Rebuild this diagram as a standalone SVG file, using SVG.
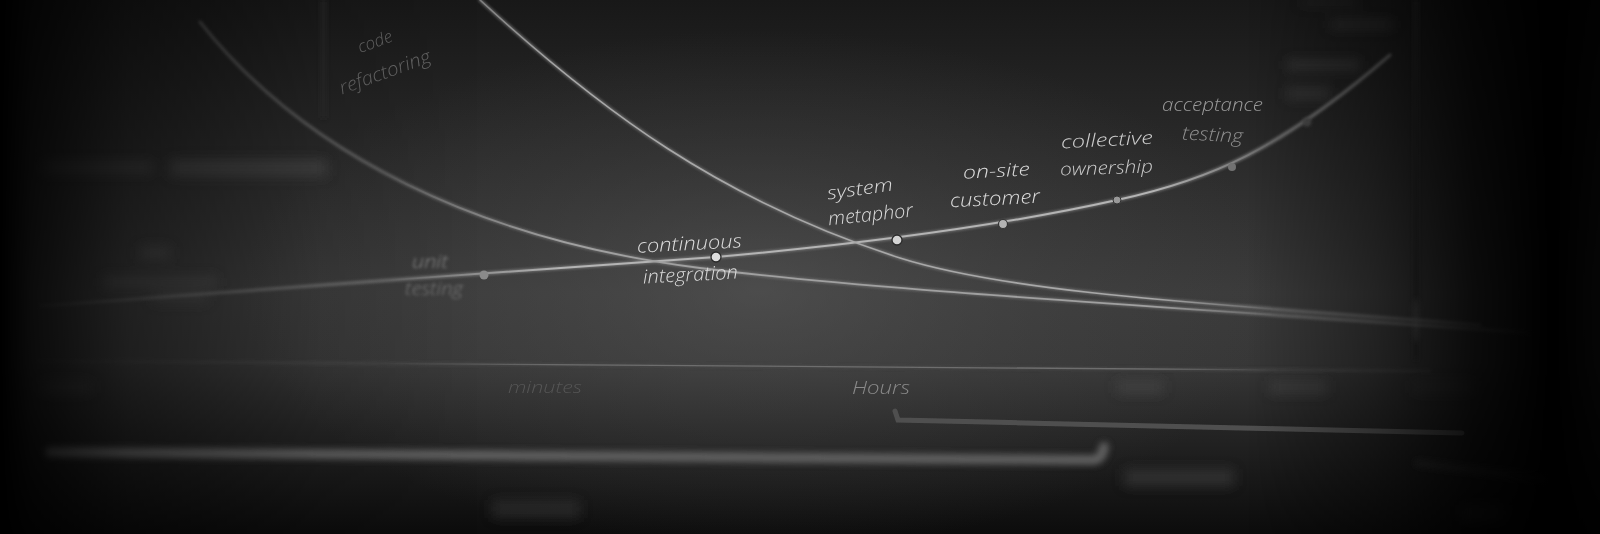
<svg xmlns="http://www.w3.org/2000/svg" width="1600" height="534" viewBox="0 0 1600 534">
<defs>
<linearGradient id="bgV" x1="0" y1="0" x2="0" y2="534" gradientUnits="userSpaceOnUse">
<stop offset="0" stop-color="#181818"/>
<stop offset="0.25" stop-color="#282828"/>
<stop offset="0.55" stop-color="#3b3b3b"/>
<stop offset="0.68" stop-color="#373737"/>
<stop offset="0.8" stop-color="#252525"/>
<stop offset="1" stop-color="#0c0c0c"/>
</linearGradient>
<radialGradient id="glow" cx="760" cy="290" r="520" gradientUnits="userSpaceOnUse" gradientTransform="translate(760 290) scale(1 0.5) translate(-760 -290)">
<stop offset="0" stop-color="#5a5a5a" stop-opacity="0.55"/>
<stop offset="0.6" stop-color="#4a4a4a" stop-opacity="0.25"/>
<stop offset="1" stop-color="#4a4a4a" stop-opacity="0"/>
</radialGradient>
<linearGradient id="edgeH" x1="0" y1="0" x2="1600" y2="0" gradientUnits="userSpaceOnUse">
<stop offset="0" stop-color="#000" stop-opacity="1"/>
<stop offset="0.02" stop-color="#000" stop-opacity="0.8"/>
<stop offset="0.08" stop-color="#000" stop-opacity="0.45"/>
<stop offset="0.2" stop-color="#000" stop-opacity="0.1"/>
<stop offset="0.3" stop-color="#000" stop-opacity="0"/>
<stop offset="0.78" stop-color="#000" stop-opacity="0"/>
<stop offset="0.86" stop-color="#000" stop-opacity="0.4"/>
<stop offset="0.92" stop-color="#000" stop-opacity="0.8"/>
<stop offset="0.97" stop-color="#000" stop-opacity="1"/>
<stop offset="1" stop-color="#000" stop-opacity="0.9"/>
</linearGradient>
<linearGradient id="focusGrad" x1="0" y1="0" x2="1600" y2="0" gradientUnits="userSpaceOnUse">
<stop offset="0" stop-color="#000"/>
<stop offset="0.24" stop-color="#000"/>
<stop offset="0.35" stop-color="#fff"/>
<stop offset="0.72" stop-color="#fff"/>
<stop offset="0.8" stop-color="#000"/>
<stop offset="1" stop-color="#000"/>
</linearGradient>
<linearGradient id="softGrad" x1="0" y1="0" x2="1600" y2="0" gradientUnits="userSpaceOnUse">
<stop offset="0" stop-color="#000"/>
<stop offset="0.03" stop-color="#333"/>
<stop offset="0.15" stop-color="#999"/>
<stop offset="0.28" stop-color="#fff"/>
<stop offset="0.8" stop-color="#fff"/>
<stop offset="0.95" stop-color="#888"/>
<stop offset="1" stop-color="#222"/>
</linearGradient>
<mask id="focus" maskUnits="userSpaceOnUse" x="0" y="0" width="1600" height="534">
<rect x="0" y="0" width="1600" height="534" fill="url(#focusGrad)"/>
</mask>
<mask id="soft" maskUnits="userSpaceOnUse" x="0" y="0" width="1600" height="534">
<rect x="0" y="0" width="1600" height="534" fill="url(#softGrad)"/>
</mask>
<filter id="b1" x="-20%" y="-50%" width="140%" height="200%"><feGaussianBlur stdDeviation="0.7"/></filter>
<filter id="b2" x="-20%" y="-50%" width="140%" height="200%"><feGaussianBlur stdDeviation="1.6"/></filter>
<filter id="b3" x="-20%" y="-100%" width="140%" height="300%"><feGaussianBlur stdDeviation="3"/></filter>
<filter id="bv" x="-600%" y="-20%" width="1300%" height="140%"><feGaussianBlur stdDeviation="2.5"/></filter>
<filter id="b5" x="-30%" y="-300%" width="160%" height="700%"><feGaussianBlur stdDeviation="6"/></filter>
<style>
.chalk{font-family:"Open Sans","DejaVu Sans",sans-serif;font-style:italic;font-weight:300;fill:#dcdcdc;}
.dim{fill:#8c8c8c;}
.faint{fill:#656565;}
.curve{fill:none;stroke-linecap:round;}
.blob{fill:#4a4a4a;}
</style>
</defs>

<!-- board background -->
<rect x="0" y="0" width="1600" height="534" fill="url(#bgV)"/>
<rect x="0" y="0" width="1600" height="534" fill="url(#glow)"/>

<!-- blurred background notes (illegible) -->
<g id="blurred-notes" filter="url(#b5)">
<rect class="blob" x="43" y="162" width="110" height="11" opacity="0.55"/>
<rect class="blob" x="170" y="160" width="157" height="16" opacity="0.7"/>
<rect class="blob" x="140" y="247" width="30" height="12" opacity="0.8"/>
<rect class="blob" x="103" y="277" width="114" height="10" opacity="0.9"/>
<rect class="blob" x="153" y="293" width="54" height="9" opacity="0.8"/>
<rect class="blob" x="1287" y="60" width="73" height="10" opacity="0.5"/>
<rect class="blob" x="1287" y="88" width="43" height="11" opacity="0.5"/>
<rect class="blob" x="1330" y="20" width="63" height="9" opacity="0.4"/>
<rect class="blob" x="1300" y="0" width="60" height="5" opacity="0.3"/>
<rect class="blob" x="41" y="381" width="51" height="12" opacity="0.45"/>
<rect class="blob" x="1117" y="381" width="46" height="12" opacity="0.6"/>
<rect class="blob" x="1270" y="381" width="57" height="12" opacity="0.55"/>
<rect class="blob" x="1413" y="381" width="62" height="12" opacity="0.35"/>
<rect class="blob" x="492" y="500" width="88" height="18" opacity="0.35"/>
<rect class="blob" x="1124" y="469" width="110" height="17" opacity="0.45"/>
<rect class="blob" x="1462" y="505" width="44" height="16" opacity="0.25"/>
</g>

<!-- vertical board lines -->
<g id="board-lines">
<rect x="322" y="0" width="3" height="118" fill="#2e2e2e" filter="url(#bv)"/>
<rect x="1414" y="0" width="4" height="360" fill="#2c2c2c" filter="url(#bv)"/>
<ellipse cx="1416" cy="320" rx="4" ry="22" fill="#4a4a4a" filter="url(#bv)"/>
</g>

<!-- connectors / curves -->
<g id="connectors">
<!-- blurred (out of focus) copies -->
<g mask="url(#soft)">
<g filter="url(#b2)" opacity="0.85">
<path class="curve" d="M40,306 C250,290 500,272 716,257 C850,245 1000,226 1117,200 C1210,180 1280,150 1390,55" stroke="#8a8a8a" stroke-width="3"/>
<path class="curve" d="M200,22 C305,155 480,240 700,268 C880,291 1150,305 1530,333" stroke="#7a7a7a" stroke-width="3"/>
<path class="curve" d="M480,0 C600,110 720,200 900,258 C1020,296 1250,306 1480,325" stroke="#7a7a7a" stroke-width="3"/>
<path class="curve" d="M40,361 L1430,371" stroke="#4a4a4a" stroke-width="3"/>
</g>
</g>
<!-- in-focus copies -->
<g mask="url(#focus)">
<path class="curve" d="M40,306 C250,290 500,272 716,257 C850,245 1000,226 1117,200 C1210,180 1280,150 1390,55" stroke="#b4b4b4" stroke-width="2"/>
<path class="curve" d="M200,22 C305,155 480,240 700,268 C880,291 1150,305 1530,333" stroke="#a0a0a0" stroke-width="1.8"/>
<path class="curve" d="M480,0 C600,110 720,200 900,258 C1020,296 1250,306 1480,325" stroke="#a8a8a8" stroke-width="1.6"/>
<path class="curve" d="M40,361 L1430,371" stroke="#6e6e6e" stroke-width="1.3"/>
</g>
<!-- bottom bars -->
<path class="curve" d="M50,452 L1094,460 Q1102,459 1104,447" stroke="#5e5e5e" stroke-width="10" filter="url(#b3)"/>
<path class="curve" d="M895,411 L898,420 L1462,433" stroke="#505050" stroke-width="5" filter="url(#b1)"/>
<path class="curve" d="M1418,463 L1545,479" stroke="#2e2e2e" stroke-width="7" filter="url(#b3)"/>
</g>

<!-- nodes -->
<g id="code-refactoring" filter="url(#b1)">
<text class="chalk faint" font-size="17" text-anchor="middle" transform="translate(377,47) rotate(-20)">code</text>
<text class="chalk faint" font-size="19" text-anchor="middle" textLength="96" lengthAdjust="spacingAndGlyphs" transform="translate(387,78) rotate(-20)">refactoring</text>
</g>

<g id="unit-testing">
<g filter="url(#b2)">
<text class="chalk dim" x="412" y="268" font-size="18" textLength="36" lengthAdjust="spacingAndGlyphs">unit</text>
<text class="chalk" x="405" y="295" font-size="19" textLength="58" lengthAdjust="spacingAndGlyphs" style="fill:#7c7c7c">testing</text>
</g>
<circle cx="484" cy="275" r="4.5" fill="#8a8a8a" filter="url(#b1)"/>
</g>

<g id="continuous-integration">
<text class="chalk" x="637" y="250" font-size="19" textLength="105" lengthAdjust="spacingAndGlyphs" transform="rotate(-3 690 245)">continuous</text>
<text class="chalk" x="643" y="281" font-size="19" textLength="95" lengthAdjust="spacingAndGlyphs" transform="rotate(-3 690 276)">integration</text>
<circle cx="716" cy="257" r="5" fill="#dedede" stroke="#2a2a2a" stroke-width="1.3"/>
</g>

<g id="system-metaphor">
<text class="chalk" x="827" y="195" font-size="18" textLength="66" lengthAdjust="spacingAndGlyphs" transform="rotate(-8 860 190)">system</text>
<text class="chalk" x="828" y="221" font-size="19" textLength="85" lengthAdjust="spacingAndGlyphs" transform="rotate(-6 870 215)">metaphor</text>
<circle cx="897" cy="240" r="5" fill="#d4d4d4" stroke="#2a2a2a" stroke-width="1.3"/>
</g>

<g id="on-site-customer">
<text class="chalk" x="963" y="177" font-size="18" textLength="67" lengthAdjust="spacingAndGlyphs" transform="rotate(-3 996 172)">on-site</text>
<text class="chalk" x="950" y="205" font-size="19" textLength="90" lengthAdjust="spacingAndGlyphs" transform="rotate(-3 995 200)">customer</text>
<circle cx="1003" cy="224" r="4.5" fill="#b4b4b4" stroke="#333" stroke-width="1.2"/>
</g>

<g id="collective-ownership">
<text class="chalk" x="1061" y="146" font-size="18" textLength="92" lengthAdjust="spacingAndGlyphs" transform="rotate(-3 1107 141)" style="fill:#cfcfcf">collective</text>
<text class="chalk" x="1060" y="174" font-size="18" textLength="93" lengthAdjust="spacingAndGlyphs" transform="rotate(-2 1106 169)" style="fill:#c8c8c8">ownership</text>
<circle cx="1117" cy="200" r="4" fill="#999" stroke="#333" stroke-width="1"/>
</g>

<g id="acceptance-testing" filter="url(#b1)">
<text class="chalk" x="1162" y="111" font-size="18" textLength="101" lengthAdjust="spacingAndGlyphs" style="fill:#9c9c9c">acceptance</text>
<text class="chalk" x="1182" y="141" font-size="19" textLength="61" lengthAdjust="spacingAndGlyphs" transform="rotate(3 1212 136)" style="fill:#8e8e8e">testing</text>
<circle cx="1232" cy="167" r="4" fill="#727272"/>
</g>

<g id="far-dot">
<circle cx="1307" cy="122" r="4.5" fill="#4a4a4a" filter="url(#b2)"/>
</g>

<g id="axis-labels">
<text class="chalk" x="508" y="393" font-size="16" textLength="74" lengthAdjust="spacingAndGlyphs" filter="url(#b1)" style="fill:#555">minutes</text>
<text class="chalk" x="852" y="394" font-size="18" textLength="58" lengthAdjust="spacingAndGlyphs" style="fill:#8a8a8a">Hours</text>
</g>

<!-- vignette -->
<rect x="0" y="0" width="1600" height="534" fill="url(#edgeH)" pointer-events="none"/>
</svg>
